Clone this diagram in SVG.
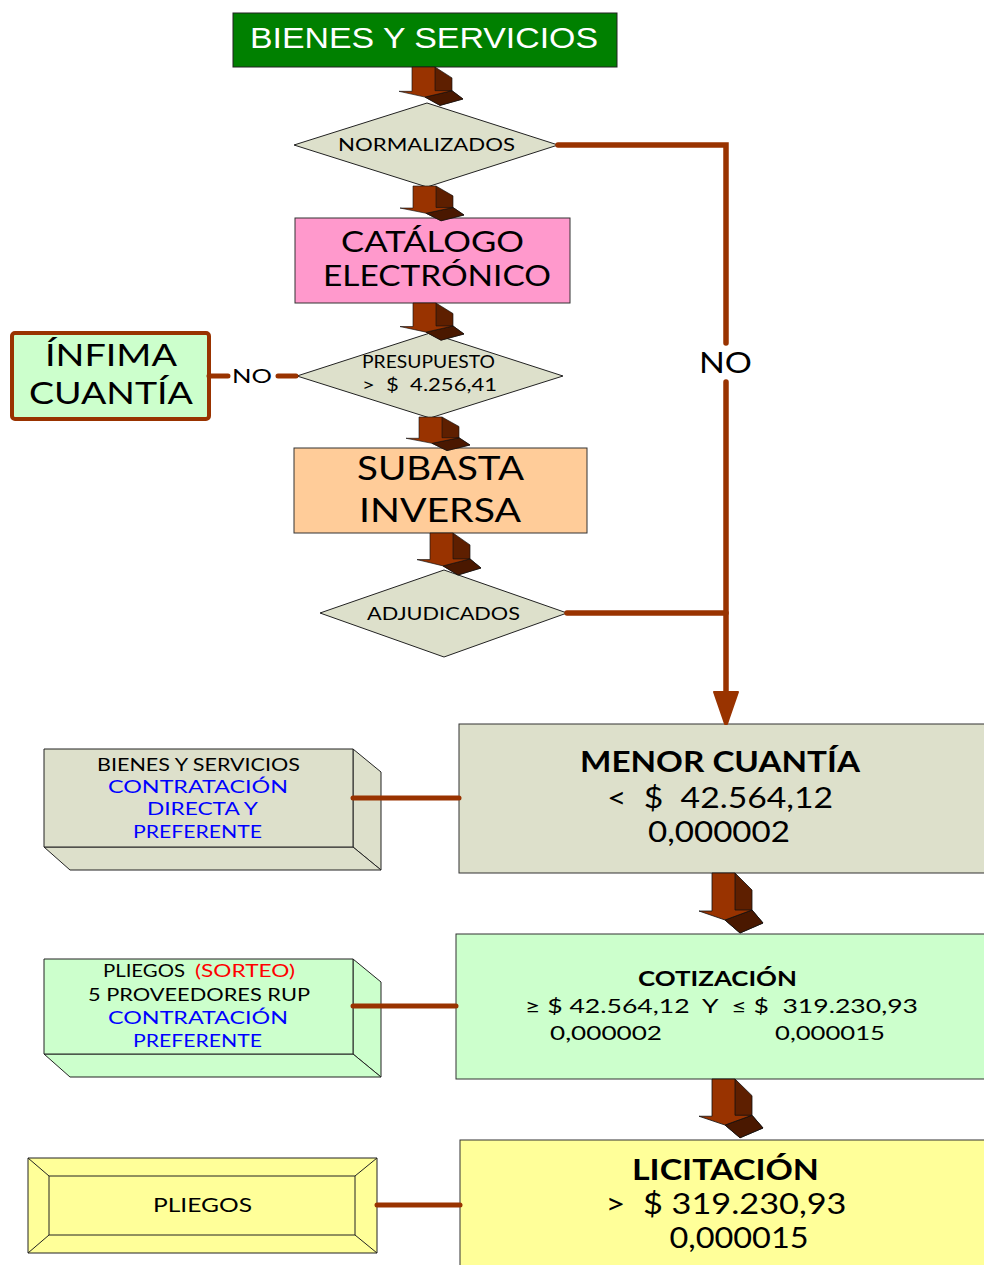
<svg xmlns="http://www.w3.org/2000/svg" xmlns:xlink="http://www.w3.org/1999/xlink" width="984" height="1265" viewBox="0 0 984 1265">
  <style>
    .t { font-family: Lato, "Open Sans", sans-serif; fill: #000; text-anchor: middle; white-space: pre; }
    .s { text-anchor: start; }
    .b { font-weight: bold; }
    .blue { fill: #0000FF; }
    .red { fill: #FF0000; }
    .box { stroke: #333; stroke-width: 1; }
    .dia { fill: #DDE0CB; stroke: #222; stroke-width: 1; }
    .link { fill: none; stroke: #993300; stroke-width: 5; stroke-linecap: round; }
    .side { stroke: #222; stroke-width: 1; stroke-linejoin: round; }
  </style>
  <defs>
    <!-- block arrow with a shaded side; origin at the shaft's top-left corner -->
    <g id="arrow3d">
      <polygon points="23,0 40,17 40,37 51,50 28,60 13,47" fill="#5E1F00" stroke="#111" stroke-width="0.8" stroke-linejoin="round"/>
      <polygon points="13,47 40,37 51,50 28,60" fill="#4A1800" stroke="#111" stroke-width="0.8" stroke-linejoin="round"/>
      <polygon points="0,0 23,0 23,37 40,37 13,47 -13,38 0,38" fill="#993300" stroke="#111" stroke-width="0.8" stroke-linejoin="round"/>
    </g>
  </defs>

  <rect width="984" height="1265" fill="#fff"/>

  <!-- top title -->
  <g id="bienes-servicios">
    <rect x="233" y="13" width="384" height="54" fill="#008000" stroke="#222" stroke-width="1"/>
    <text x="424" y="48" textLength="348" lengthAdjust="spacingAndGlyphs" style="font-family:'Liberation Sans',Arial,sans-serif;font-size:30px;fill:#fff;text-anchor:middle">BIENES Y SERVICIOS</text>
  </g>

  <g id="normalizados">
    <polygon class="dia" points="294,145 427,103 558,145 427,187"/>
    <text class="t" x="426.5" y="151" textLength="177" lengthAdjust="spacingAndGlyphs" style="font-size:18px">NORMALIZADOS</text>
  </g>

  <g id="catalogo-electronico">
    <rect class="box" x="295" y="218" width="275" height="85" fill="#FF99CC"/>
    <text class="t" x="432.5" y="252" textLength="183" lengthAdjust="spacingAndGlyphs" style="font-size:28px">CATÁLOGO</text>
    <text class="t" x="437" y="286" textLength="228" lengthAdjust="spacingAndGlyphs" style="font-size:28px">ELECTRÓNICO</text>
  </g>

  <g id="infima-cuantia">
    <rect x="12" y="333" width="197" height="86" rx="3" fill="#CCFFCC" stroke="#993300" stroke-width="4"/>
    <text class="t" x="111" y="366" textLength="132" lengthAdjust="spacingAndGlyphs" style="font-size:31px">ÍNFIMA</text>
    <text class="t" x="111" y="404" textLength="164" lengthAdjust="spacingAndGlyphs" style="font-size:31px">CUANTÍA</text>
  </g>

  <g id="presupuesto">
    <polygon class="dia" points="297,376 430,333 563,376 430,418"/>
    <text class="t" x="428.5" y="368" textLength="133" lengthAdjust="spacingAndGlyphs" style="font-size:17px">PRESUPUESTO</text>
    <text class="t" x="429.5" y="391" textLength="135" lengthAdjust="spacingAndGlyphs" style="font-size:17px">&gt;  $  4.256,41</text>
  </g>

  <g id="subasta-inversa">
    <rect class="box" x="294" y="448" width="293" height="85" fill="#FFCC99"/>
    <text class="t" x="440.5" y="480" textLength="167" lengthAdjust="spacingAndGlyphs" style="font-size:33px">SUBASTA</text>
    <text class="t" x="440" y="522" textLength="162" lengthAdjust="spacingAndGlyphs" style="font-size:33px">INVERSA</text>
  </g>

  <g id="adjudicados">
    <polygon class="dia" points="320,613 444,570 567,613 444,657"/>
    <text class="t" x="443.5" y="620" textLength="153" lengthAdjust="spacingAndGlyphs" style="font-size:18px">ADJUDICADOS</text>
  </g>

  <g id="menor-cuantia">
    <rect class="box" x="459" y="724" width="530" height="149" fill="#DDE0CB"/>
    <text class="t b" x="720" y="772" textLength="280" lengthAdjust="spacingAndGlyphs" style="font-size:28px">MENOR CUANTÍA</text>
    <text class="t" x="720" y="808" textLength="226" lengthAdjust="spacingAndGlyphs" style="font-size:28px">&lt;  $  42.564,12</text>
    <text class="t" x="719" y="842" textLength="142" lengthAdjust="spacingAndGlyphs" style="font-size:28px">0,000002</text>
  </g>

  <g id="cotizacion">
    <rect class="box" x="456" y="934" width="533" height="145" fill="#CCFFCC"/>
    <text class="t b" x="717.5" y="986" textLength="159" lengthAdjust="spacingAndGlyphs" style="font-size:21px">COTIZACIÓN</text>
    <text class="t" x="721.5" y="1013" textLength="393" lengthAdjust="spacingAndGlyphs" style="font-size:20px">≥ $ 42.564,12  Y  ≤ $  319.230,93</text>
    <text class="t" x="606" y="1040" textLength="112" lengthAdjust="spacingAndGlyphs" style="font-size:20px">0,000002</text>
    <text class="t" x="830" y="1040" textLength="110" lengthAdjust="spacingAndGlyphs" style="font-size:20px">0,000015</text>
  </g>

  <g id="licitacion">
    <rect class="box" x="460" y="1140" width="530" height="130" fill="#FFFF99"/>
    <text class="t b" x="725.5" y="1180" textLength="187" lengthAdjust="spacingAndGlyphs" style="font-size:28px">LICITACIÓN</text>
    <text class="t" x="726" y="1214" textLength="241" lengthAdjust="spacingAndGlyphs" style="font-size:28px">&gt;  $ 319.230,93</text>
    <text class="t" x="739" y="1248" textLength="139" lengthAdjust="spacingAndGlyphs" style="font-size:28px">0,000015</text>
  </g>

  <!-- raised note boxes on the left -->
  <g id="contratacion-directa">
    <polygon class="side" points="353,749 381,772 381,870 353,847" fill="#DDE0CB"/>
    <polygon class="side" points="44,847 353,847 381,870 70,870" fill="#DDE0CB"/>
    <rect class="side" x="44" y="749" width="309" height="98" fill="#DDE0CB"/>
    <text class="t" x="198.5" y="771" textLength="203" lengthAdjust="spacingAndGlyphs" style="font-size:17px">BIENES Y SERVICIOS</text>
    <text class="t blue" x="198" y="793" textLength="180" lengthAdjust="spacingAndGlyphs" style="font-size:17px">CONTRATACIÓN</text>
    <text class="t blue" x="202.5" y="815" textLength="111" lengthAdjust="spacingAndGlyphs" style="font-size:17px">DIRECTA Y</text>
    <text class="t blue" x="197.5" y="838" textLength="129" lengthAdjust="spacingAndGlyphs" style="font-size:17px">PREFERENTE</text>
  </g>

  <g id="pliegos-sorteo">
    <polygon class="side" points="353,959 381,982 381,1077 353,1054" fill="#CCFFCC"/>
    <polygon class="side" points="44,1054 353,1054 381,1077 70,1077" fill="#CCFFCC"/>
    <rect class="side" x="44" y="959" width="309" height="95" fill="#CCFFCC"/>
    <text class="t s" x="103" y="977" textLength="82" lengthAdjust="spacingAndGlyphs" style="font-size:17px">PLIEGOS</text>
    <text class="t s red" x="195" y="977" textLength="100" lengthAdjust="spacingAndGlyphs" style="font-size:17px">(SORTEO)</text>
    <text class="t" x="199" y="1001" textLength="222" lengthAdjust="spacingAndGlyphs" style="font-size:17px">5 PROVEEDORES RUP</text>
    <text class="t blue" x="198" y="1024" textLength="180" lengthAdjust="spacingAndGlyphs" style="font-size:17px">CONTRATACIÓN</text>
    <text class="t blue" x="197.5" y="1047" textLength="129" lengthAdjust="spacingAndGlyphs" style="font-size:17px">PREFERENTE</text>
  </g>

  <g id="pliegos">
    <rect class="side" x="28" y="1158" width="349" height="95" fill="#FFFF99"/>
    <rect class="side" x="49" y="1176" width="306" height="59" fill="#FFFF99"/>
    <path d="M28,1158 L49,1176 M377,1158 L355,1176 M28,1253 L49,1235 M377,1253 L355,1235" stroke="#222" stroke-width="1"/>
    <text class="t" x="202.5" y="1212" textLength="99" lengthAdjust="spacingAndGlyphs" style="font-size:19px">PLIEGOS</text>
  </g>

  <!-- connectors -->
  <g id="connectors">
    <!-- NO branch from the budget check -->
    <path class="link" d="M209,376 L228,376 M278,376 L296,376"/>
    <text class="t" x="252" y="383" textLength="40" lengthAdjust="spacingAndGlyphs" style="font-size:20px">NO</text>

    <!-- NO branch from NORMALIZADOS and the ADJUDICADOS join -->
    <path class="link" d="M558,145 L726,145 L726,343 M726,382 L726,700" stroke-linejoin="miter" style="stroke-width:5.5"/>
    <path class="link" d="M567,613 L726,613" style="stroke-width:5.5"/>
    <polygon points="714,692 738,692 729,718 727,724 725,724 723,718" fill="#993300" stroke="#993300" stroke-width="2" stroke-linejoin="round"/>
    <text class="t" x="725.5" y="373" textLength="53" lengthAdjust="spacingAndGlyphs" style="font-size:28px">NO</text>

    <!-- note box links -->
    <path class="link" d="M353,798 L459,798"/>
    <path class="link" d="M353,1006 L456,1006"/>
    <path class="link" d="M377,1205 L460,1205"/>

    <!-- flow arrows -->
    <use xlink:href="#arrow3d" transform="translate(412,67) scale(1,0.64)"/>
    <use xlink:href="#arrow3d" transform="translate(413,186) scale(1,0.58)"/>
    <use xlink:href="#arrow3d" transform="translate(413,303) scale(1,0.62)"/>
    <use xlink:href="#arrow3d" transform="translate(419,417) scale(1,0.56)"/>
    <use xlink:href="#arrow3d" transform="translate(430,533) scale(1,0.7)"/>
    <use xlink:href="#arrow3d" transform="translate(712,873)"/>
    <use xlink:href="#arrow3d" transform="translate(712,1079) scale(1,0.98)"/>
  </g>
</svg>
